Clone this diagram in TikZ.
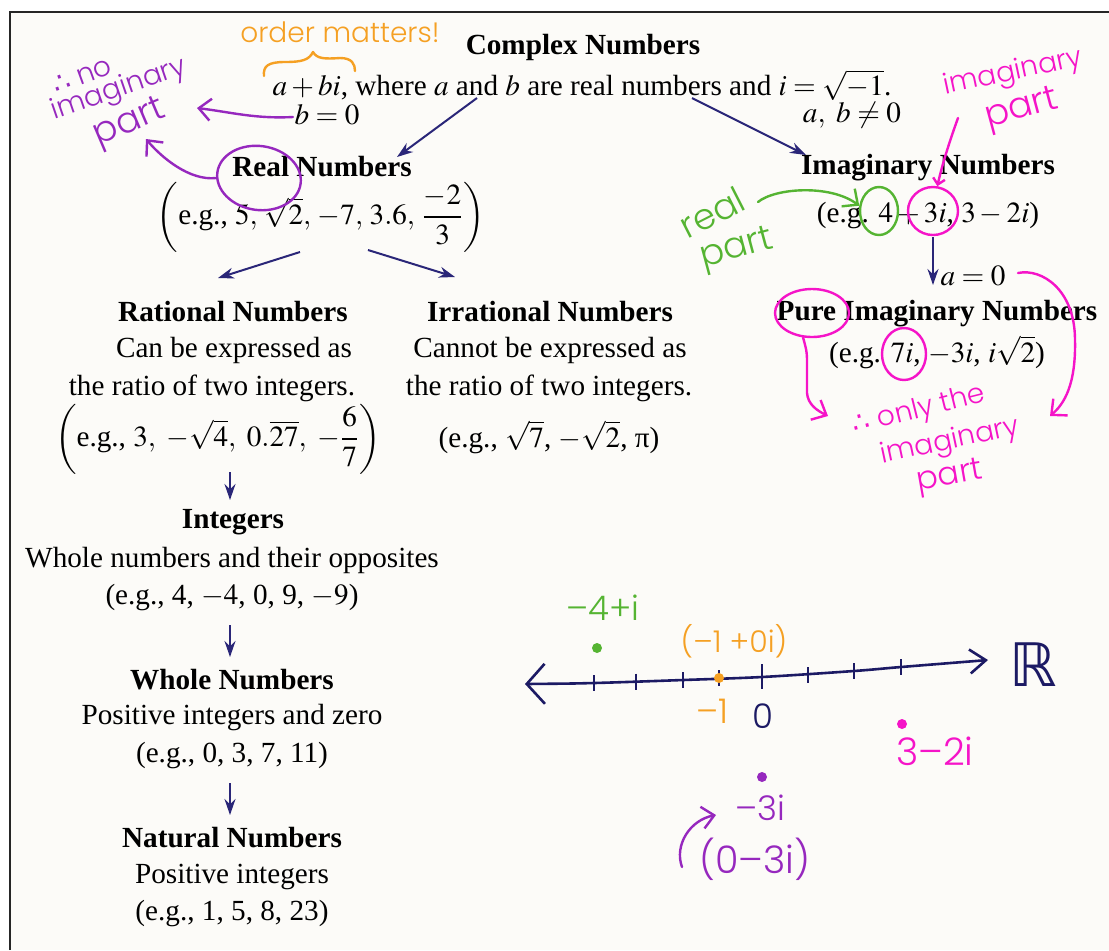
\documentclass[tikz,border=0pt]{standalone}
\usepackage{amsmath}
\usepackage{mathptmx}
\usepackage{fontspec}
\setmainfont{Liberation Serif}
\newfontfamily\hand{Poppins}[UprightFont=* Light]
\newfontfamily\symb{DejaVu Sans}
\usepackage{tikz}
\usetikzlibrary{arrows.meta,shapes.geometric}
\usepackage{xcolor}
\definecolor{ink}{RGB}{42,38,120}
\definecolor{nline}{RGB}{28,26,100}
\definecolor{hOrange}{RGB}{245,160,35}
\definecolor{hPurple}{RGB}{150,40,190}
\definecolor{hPink}{RGB}{245,20,200}
\definecolor{hGreen}{RGB}{85,180,50}
\definecolor{paper}{RGB}{252,251,248}

\begin{document}
\begin{tikzpicture}[x=0.5pt,y=-0.5pt,
  txt/.style={inner sep=0pt,font=\fontsize{14.6}{18}\selectfont},
  ttl/.style={inner sep=0pt,font=\fontsize{14.6}{18}\selectfont\bfseries},
  flow/.style={ink,line width=1pt,-{Stealth[length=8pt,width=5.5pt]}},
  hand/.style={line width=1.2pt,line cap=round,line join=round},
  barb/.style={-{Straight Barb[length=6pt,width=11pt]}},
  ring/.style={draw,ellipse,line width=1.2pt,inner sep=0pt},
  hw/.style={inner sep=0pt,font=\hand\fontsize{14}{16}\selectfont},
  hwbig/.style={inner sep=0pt,font=\hand\fontsize{18}{20}\selectfont},
  numlbl/.style={inner sep=0pt,font=\hand\fontsize{17}{19}\selectfont},
  tick/.style={nline,line width=1.2pt},
  dot/.style={circle,inner sep=0pt,minimum size=5pt}]
\fill[white] (0,0) rectangle (1109,950);
\useasboundingbox (0,0) rectangle (1109,950);
\fill[paper] (10,12) rectangle (1109,950);
\draw[line width=1pt,black!85] (10,950) -- (10,12) -- (1109,12);

\node[ttl] (cplx) at (583,47) {Complex Numbers};
\node[txt] (cdef) at (582,85) {$a+bi$, where $a$ and $b$ are real numbers and $i=\sqrt{-1}$.};
\node[txt] (bzero) at (327,115) {$b=0$};
\node[txt] (abne) at (852,115) {$a,\ b\neq 0$};

\node[ttl] (real) at (322,167) {Real Numbers};
\node[txt] (realeg) at (321,217) {$\left(\text{e.g., }5,\,\sqrt{2},\,-7,\,3.6,\,\dfrac{-2}{3}\right)$};

\node[ttl] (rat) at (233,312) {Rational Numbers};
\node[txt] (rat1) at (234,350) {Can be expressed as};
\node[txt] (rat2) at (212,388) {the ratio of two integers.};
\node[txt] (rateg) at (218,439) {$\left(\text{e.g., }3,\ -\sqrt{4},\ 0.\overline{27},\ -\dfrac{6}{7}\right)$};

\node[ttl] (irr) at (550,312) {Irrational Numbers};
\node[txt] (irr1) at (550,350) {Cannot be expressed as};
\node[txt] (irr2) at (549,388) {the ratio of two integers.};
\node[txt] (irreg) at (549,437) {(e.g., $\sqrt{7}$, $-\sqrt{2}$, π)};

\node[ttl] (int) at (233,522) {Integers};
\node[txt] (int1) at (232,560) {Whole numbers and their opposites};
\node[txt] (integ) at (232,598) {(e.g., 4, $-4$, 0, 9, $-9$)};

\node[ttl] (whole) at (232,680) {Whole Numbers};
\node[txt] (whole1) at (232,718) {Positive integers and zero};
\node[txt] (wholeeg) at (232,756) {(e.g., 0, 3, 7, 11)};

\node[ttl] (nat) at (232,838) {Natural Numbers};
\node[txt] (nat1) at (232,877) {Positive integers};
\node[txt] (nateg) at (232,914) {(e.g., 1, 5, 8, 23)};

\node[ttl] (imag) at (928,168) {Imaginary Numbers};
\node[txt] (imageg) at (928,216) {(e.g. $4+3i$, $3-2i$)};
\node[txt] (azero) at (973,276) {$a=0$};
\node[ttl] (pure) at (937,314) {Pure Imaginary Numbers};
\node[txt] (pureeg) at (937,352) {(e.g. $7i$, $-3i$, $i\sqrt{2}$)};

\draw[flow] ([shift={(-105,13)}]cdef.center) -- ([shift={(75,-10)}]real.center);
\draw[flow] ([shift={(110,13)}]cdef.center) -- ([shift={(-122,-13)}]imag.center);
\draw[flow] ([shift={(-21,35)}]realeg.center) -- ([shift={(-15,-34)}]rat.center);
\draw[flow] ([shift={(47,33)}]realeg.center) -- ([shift={(-95,-35)}]irr.center);
\draw[flow] ([shift={(5,21)}]imageg.center) -- ([shift={(-4,-29)}]pure.center);
\draw[flow] ([shift={(12,33)}]rateg.center) -- ([shift={(-3,-22)}]int.center);
\draw[flow] ([shift={(-2,27)}]integ.center) -- ([shift={(-2,-23)}]whole.center);
\draw[flow] ([shift={(-2,27)}]wholeeg.center) -- ([shift={(-2,-23)}]nat.center);

% orange notes
\node[hw,hOrange] (order) at (340,32) {order matters!};
\draw[hand,hOrange] (264,76) .. controls (263,66) and (268,62) .. (285,62)
  .. controls (302,62) and (309,60) .. (313,52) .. controls (317,59) and (325,59) .. (340,58)
  .. controls (352,58) and (355,64) .. (355,71);

% purple notes
\node[hw,hPurple,rotate=20] (nono) at (82,76) {{\symb ∴} no};
\node[hw,hPurple,rotate=19] (noimag) at (119,90) {imaginary};
\node[hwbig,hPurple,rotate=23] (nopart) at (130,124) {part};
\node[ring,hPurple,rotate=-8,minimum width=42pt,minimum height=32pt] (realring) at (259,178) {};
\draw[hand,hPurple,barb] ([shift={(-34,2)}]bzero.center) .. controls (255,119) and (230,112) .. (197,108);
\draw[hand,hPurple,barb] (realring.188) .. controls (190,181) and (162,158) .. (146,139);

% green notes
\node[hwbig,hGreen,rotate=27] (realw) at (712,212) {real};
\node[hwbig,hGreen,rotate=15] (partw) at (737,250) {part};
\node[ring,hGreen,minimum width=19pt,minimum height=24pt] (ring4) at (879,211) {};
\draw[hand,hGreen,barb] ([shift={(46,-10)}]realw.center) .. controls (775,188) and (830,184) .. (ring4.165);

% pink notes
\node[hw,hPink,rotate=12] (imw) at (1013,73) {imaginary};
\node[hwbig,hPink,rotate=15] (ptw) at (1022,110) {part};
\node[ring,hPink,minimum width=25pt,minimum height=24pt] (ring3i) at (933,211) {};
\node[ring,hPink,minimum width=37pt,minimum height=24pt] (ringpure) at (812,313) {};
\node[ring,hPink,minimum width=22pt,minimum height=26pt] (ring7i) at (904,354) {};
\draw[hand,hPink,-{Straight Barb[length=3pt,width=6pt]}] ([shift={(-64,8)}]ptw.center) .. controls (950,140) and (942,165) .. (ring3i.80);
\draw[hand,hPink,barb] (ringpure.250) .. controls (805,345) and (807,350) .. (807,360) -- (807,393)
  .. controls (808,404) and (816,410) .. (828,416);
\draw[hand,hPink,barb] ([shift={(45,-3)}]azero.center) .. controls (1042,268) and (1075,290) .. (1075,340)
  .. controls (1076,385) and (1064,404) .. (1050,416);
\node[hw,hPink,rotate=14] (only) at (919,411) {{\symb ∴} only the};
\node[hw,hPink,rotate=12] (onlyim) at (950,442) {imaginary};
\node[hw,hPink,font=\hand\fontsize{16}{18}\selectfont,rotate=10] (onlypt) at (950,478) {part};

% number line
\draw[nline,line width=1.3pt,{Straight Barb[length=9pt,width=20pt]}-{Straight Barb[length=8pt,width=12pt]}]
  plot[smooth] coordinates {(525,684) (594,683) (683,680) (762,677) (854,671) (901,667) (988,660)};
\foreach \tx/\ty in {594/683,636/681.5,683/680,719/678,808/675,854/671,901/667}
  \draw[tick] (\tx,\ty-8) -- (\tx,\ty+8);
\draw[tick] (762,664) -- (762,689);
\node[font=\symb\fontsize{30}{32}\selectfont,nline,inner sep=0pt] (reals) at (1033,665) {ℝ};
\node[numlbl,nline] (zero) at (763,716) {0};
\node[dot,fill=hGreen] (pm4) at (597,648) {};
\node[numlbl,hGreen] (lm4) at (603,608) {–4+i};
\node[dot,fill=hOrange] (pm1) at (719,678) {};
\node[numlbl,hOrange,font=\hand\fontsize{15}{17}\selectfont] (lm1full) at (734,641) {(–1 +0i)};
\node[numlbl,hOrange] (lm1) at (712,711) {–1};
\node[dot,fill=hPink] (p32) at (902,724) {};
\node[numlbl,hPink,font=\hand\fontsize{19}{21}\selectfont] (l32) at (935,751) {3–2i};
\node[dot,fill=hPurple] (pm3) at (762,777) {};
\node[numlbl,hPurple] (lm3) at (760,808) {–3i};
\node[numlbl,hPurple,font=\hand\fontsize{19}{21}\selectfont] (l03) at (755,859) {(0–3i)};
\draw[hand,hPurple,barb] ([shift={(-73,8)}]l03.center) .. controls (674,845) and (690,820) .. ([shift={(-44,7)}]lm3.center);
\end{tikzpicture}
\end{document}
